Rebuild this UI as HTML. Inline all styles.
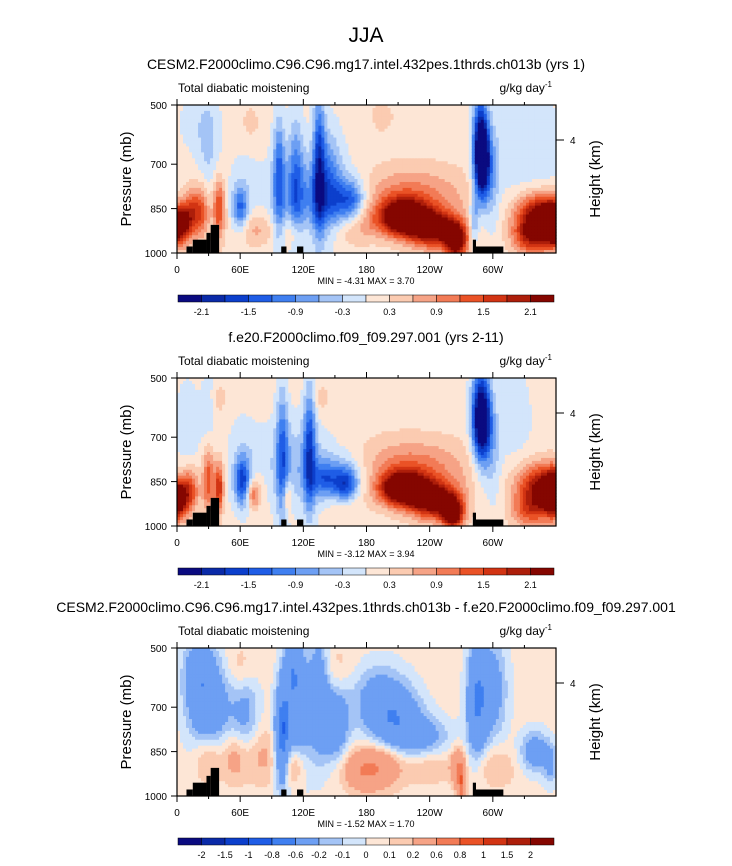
<!DOCTYPE html>
<html><head><meta charset="utf-8">
<style>
body{margin:0;background:#fff;}
svg text{font-family:"Liberation Sans",sans-serif;fill:#000;}
</style></head>
<body>
<svg id="fig" width="732" height="861" xmlns="http://www.w3.org/2000/svg">
<text x="366" y="42" font-size="21" text-anchor="middle">JJA</text>
</svg>
<script>
// ---- data ----
const lonTicks = [0,60,120,180,240,300];
const lonTickLabels = ["0","60E","120E","180","120W","60W"];
const presTicks = [500,700,850,1000];
const levelsA = [-2.1,-1.8,-1.5,-1.2,-0.9,-0.6,-0.3,0,0.3,0.6,0.9,1.2,1.5,1.8,2.1];
const levelLabelsA = ["-2.1","","-1.5","","-0.9","","-0.3","","0.3","","0.9","","1.5","","2.1"];
const levelsB = [-2,-1.5,-1,-0.8,-0.6,-0.2,-0.1,0,0.1,0.2,0.6,0.8,1,1.5,2];
const levelLabelsB = ["-2","-1.5","-1","-0.8","-0.6","-0.2","-0.1","0","0.1","0.2","0.6","0.8","1","1.5","2"];
const colors = ['#0a0a80','#0a2aa8','#0c3fcc','#1f5de6','#3f7ff0','#6d9ff3','#a4c4f6','#d3e5fb','#fde6d6','#fbcbb1','#f6a386','#f27b56','#ea5226','#d23413','#ad1e0a','#850600'];
// blobs: [lon, pressure, amplitude, lonWidth, presWidth]
const blobs1 = [
 [0,905,3.2,8,45],[360,905,3.2,8,45],[345,880,2.6,16,55],[335,950,1.2,12,40],
 [215,880,3.0,16,42],[245,920,2.4,16,42],[265,960,2.6,7,40],[222,810,0.9,38,70],
 [22,860,1.3,6,60],[40,850,1.4,4,70],[12,860,0.9,5,50],
 [60,850,-1.2,5,50],[62,790,-0.3,10,90],
 [97,740,-1.3,4,140],[113,760,-1.0,5,160],[135,700,-1.6,4,170],[145,760,-0.8,8,130],
 [165,820,-1.1,9,45],[150,820,-0.6,22,60],[125,800,-0.7,28,110],
 [290,690,-3.0,5,90],[288,600,-1.4,5,120],[300,760,-0.6,5,110],[282,880,-0.9,3,60],
 [320,640,-0.35,18,180],[350,660,-0.3,15,120],[30,650,-0.45,7,110],[20,560,-0.3,15,80],
 [75,920,0.6,12,40],[110,930,0.6,6,40],[160,930,0.4,15,40],[180,900,0.3,10,40],
 [70,560,0.3,6,40],[195,540,0.3,8,40]
];
const blobs2 = [
 [0,910,3.0,6,45],[360,890,3.0,8,50],[345,870,2.0,16,55],[335,950,1.0,12,40],
 [215,875,3.0,15,38],[245,915,2.4,16,42],[262,960,2.4,7,35],[222,810,1.0,38,70],
 [12,880,1.4,6,50],[30,840,1.4,4,80],[40,870,1.6,3,60],
 [62,850,-1.5,5,55],[62,790,-0.4,10,110],[72,900,0.8,4,30],
 [100,760,-1.2,4,160],[126,740,-1.5,4,150],[140,840,-0.9,8,40],[160,860,-1.5,8,40],
 [155,830,-0.7,22,60],[112,790,-0.6,24,110],
 [290,650,-2.3,6,90],[288,600,-1.2,6,120],[300,780,-0.5,6,110],
 [320,640,-0.3,14,150],[10,650,-0.45,8,100],[30,650,-0.35,5,150],
 [105,900,0.8,3,40],[75,880,0.5,6,40],[160,930,0.3,12,40],
 [137,570,0.3,6,40],[40,570,0.3,5,40]
];
const blobs3 = [
 [30,700,-0.5,14,120],[20,580,-0.35,10,80],[65,720,-0.3,10,100],
 [100,800,-0.8,5,120],[115,720,-0.45,9,150],[135,650,-0.45,7,150],[150,760,-0.5,9,80],
 [110,570,-0.4,6,80],[205,730,-0.5,18,70],[230,800,-0.35,20,50],[190,650,-0.25,20,80],
 [285,680,-0.6,7,140],[300,640,-0.35,10,130],[340,850,-0.4,10,50],[355,900,-0.25,5,50],
 [30,870,0.3,10,60],[55,870,0.25,8,60],[80,860,0.2,12,70],[110,900,0.35,8,50],
 [190,900,0.45,16,50],[175,920,0.3,12,40],[270,960,0.7,3,60],[265,900,0.35,4,40],
 [300,900,0.2,14,50],[150,560,0.1,15,60],[60,570,0.15,10,60],[240,900,0.15,15,40]
];
const base1 = 0.15, base2 = 0.15, base3 = 0.05;
// terrain: [lon0, lon1, topPressure]
const terrain = [[9,15,978],[15,28,955],[28,32,932],[32,40,905],[99,104,978],[114,120,978],[281,284,955],[284,310,978]];

const panels = [
 {top:105,title:"CESM2.F2000climo.C96.C96.mg17.intel.432pes.1thrds.ch013b (yrs 1)",blobs:blobs1,base:base1,levels:levelsA,labels:levelLabelsA,mm:"MIN =  -4.31   MAX =   3.70"},
 {top:378,title:"f.e20.F2000climo.f09_f09.297.001 (yrs 2-11)",blobs:blobs2,base:base2,levels:levelsA,labels:levelLabelsA,mm:"MIN =  -3.12   MAX =   3.94"},
 {top:648,title:"CESM2.F2000climo.C96.C96.mg17.intel.432pes.1thrds.ch013b - f.e20.F2000climo.f09_f09.297.001",blobs:blobs3,base:base3,levels:levelsB,labels:levelLabelsB,mm:"MIN =  -1.52   MAX =   1.70"}
];

const NS="http://www.w3.org/2000/svg";
const fig=document.getElementById('fig');
function mk(tag,attrs,parent){const e=document.createElementNS(NS,tag);for(const k in attrs)e.setAttribute(k,attrs[k]);(parent||fig).appendChild(e);return e;}
const X0=177,X1=556,H=148;
panels.forEach((p,pi)=>{
  const g=mk('g',{});
  
  
  const xS=l=>X0+(l/360)*(X1-X0);
  const yS=pr=>p.top+(pr-500)/500*H;
  const t=mk('text',{x:366,y:p.top-36,'font-size':14,'text-anchor':'middle'},g);t.textContent=p.title;
  
  
  const l=mk('text',{x:X0+1,y:p.top-13,'font-size':12},g);l.textContent="Total diabatic moistening";
  
  
  const u=mk('text',{x:X1-4,y:p.top-13,'font-size':12,'text-anchor':'end'},g);u.innerHTML='g/kg day<tspan dy="-5" font-size="8">-1</tspan>';
  
  
  const field=(lon,pr)=>{let v=p.base;p.blobs.forEach(b=>{let dl=Math.abs(lon-b[0]);v+=b[2]*Math.exp(-(dl*dl)/(2*b[3]*b[3])-((pr-b[1])*(pr-b[1]))/(2*b[4]*b[4]));});return v;};
  const NX=126,NY=50;
  for(let i=0;i<NX;i++)for(let j=0;j<NY;j++){
    const lon=(i+0.5)*360/NX, pr=500+(j+0.5)*500/NY;
    const v=field(lon,pr);let k=0;while(k<p.levels.length&&v>=p.levels[k])k++;
    const x=xS(i*360/NX),y=yS(500+j*500/NY);
    const r=mk('rect',{x:x,y:y,width:(X1-X0)/NX+0.6,height:H/NY+0.6,fill:colors[k]},g);
    
    
  }
  terrain.forEach(tb=>{const r=mk('rect',{x:xS(tb[0]),y:yS(tb[2]),width:xS(tb[1])-xS(tb[0]),height:yS(1000)-yS(tb[2]),fill:'#000'},g);
    
    });
  mk('rect',{x:X0,y:p.top,width:X1-X0,height:H,fill:'none',stroke:'#000','stroke-width':1.2},g);
  for(let lt=0;lt<360;lt+=30){const x=xS(lt),mj=lt%60==0;
    mk('line',{x1:x,x2:x,y1:p.top+H,y2:p.top+H+(mj?6:3),stroke:'#000'},g);
    mk('line',{x1:x,x2:x,y1:p.top,y2:p.top-(mj?6:3),stroke:'#000'},g);}
  lonTicks.forEach((lt,i)=>{const tx=mk('text',{x:xS(lt),y:p.top+H+20,'font-size':10,'text-anchor':'middle'},g);tx.textContent=lonTickLabels[i];
    
    });
  presTicks.forEach(pt=>{const y=yS(pt);mk('line',{x1:X0,x2:X0-6,y1:y,y2:y,stroke:'#000'},g);
    const tx=mk('text',{x:X0-10,y:y+4,'font-size':10,'text-anchor':'end'},g);tx.textContent=pt;
    
    });
  const hy=p.top+35;mk('line',{x1:X1,x2:X1+8,y1:hy,y2:hy,stroke:'#000'},g);
  const h4=mk('text',{x:X1+14,y:hy+4,'font-size':10},g);h4.textContent="4";
  const ya=mk('text',{x:131,y:p.top+H/2,'font-size':15,'text-anchor':'middle',transform:`rotate(-90 131 ${p.top+H/2})`},g);ya.textContent="Pressure (mb)";
  
  
  const yb=mk('text',{x:600,y:p.top+H/2,'font-size':15,'text-anchor':'middle',transform:`rotate(-90 600 ${p.top+H/2})`},g);yb.textContent="Height (km)";
  
  
  const mm=mk('text',{x:366,y:p.top+H+31,'font-size':9,'text-anchor':'middle','xml:space':'preserve'},g);mm.textContent=p.mm;
  
  
  const cy=p.top+190,cx0=178,cw=(554-178)/16;
  colors.forEach((c,k)=>{const r=mk('rect',{x:cx0+k*cw,y:cy,width:cw,height:7,fill:c,stroke:'#000','stroke-width':0.5},g);
    
    });
  p.labels.forEach((lb,k)=>{if(!lb)return;const tx=mk('text',{x:cx0+(k+1)*cw,y:cy+20,'font-size':9,'text-anchor':'middle'},g);tx.textContent=lb;
    
    });
});
</script>
</body></html>
